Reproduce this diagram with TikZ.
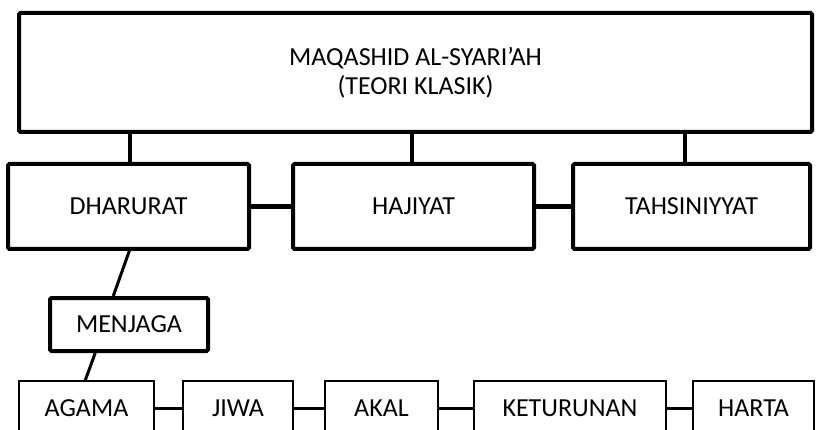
\documentclass[tikz,border=0pt]{standalone}
\usepackage{fontspec}
\setmainfont{Carlito}
\begin{document}
\begin{tikzpicture}[x=1pt,y=-1pt,
  thickbox/.style={draw=black,line width=4pt,fill=white,rounded corners=1.5pt,inner sep=0pt,align=center,
    font=\fontsize{26}{29}\selectfont},
  thinbox/.style={draw=black,line width=1.5pt,fill=white,inner sep=0pt,align=center,
    font=\fontsize{26}{29}\selectfont},
  bigline/.style={line width=4.5pt},
  midline/.style={line width=3.5pt},
  lowline/.style={line width=3pt}]
\useasboundingbox (0,0) rectangle (816,430);
\clip (0,0) rectangle (816,430);
% connector coordinates
\coordinate (k1) at (130,0);
\coordinate (k2) at (412,0);
\coordinate (k3) at (685,0);
\coordinate (p) at (130,249);
\coordinate (m1) at (113.3,0);
\coordinate (m2) at (95.2,0);
\coordinate (q) at (85,381);
% nodes
\node[thickbox,minimum width=793pt,minimum height=119pt] (top) at (415.5,72.5)
  {MAQASHID AL-SYARI’AH\\(TEORI KLASIK)};
\node[thickbox,minimum width=241pt,minimum height=85pt] (dh) at (128.5,206.5) {DHARURAT};
\node[thickbox,minimum width=241pt,minimum height=85pt] (ha) at (413.5,206.5) {HAJIYAT};
\node[thickbox,minimum width=237pt,minimum height=85pt] (ta) at (691.5,206.5) {TAHSINIYYAT};
\node[thickbox,minimum width=158pt,minimum height=53pt] (me) at (129,324.5) {MENJAGA};
\node[thinbox,minimum width=135pt,minimum height=55pt] (ag) at (86.5,408.5) {AGAMA};
\node[thinbox,minimum width=110pt,minimum height=55pt] (ji) at (238,408.5) {JIWA};
\node[thinbox,minimum width=113pt,minimum height=55pt] (ak) at (381.5,408.5) {AKAL};
\node[thinbox,minimum width=192pt,minimum height=55pt] (ke) at (570,408.5) {KETURUNAN};
\node[thinbox,minimum width=121pt,minimum height=55pt] (hr) at (753.5,408.5) {HARTA};
% connectors
\draw[midline] (top.south -| k1) -- (dh.north -| k1);
\draw[midline] (top.south -| k2) -- (ha.north -| k2);
\draw[midline] (top.south -| k3) -- (ta.north -| k3);
\draw[bigline] (dh.east) -- (ha.west);
\draw[bigline] (ha.east) -- (ta.west);
\draw[lowline] (p) -- (me.north -| m1);
\draw[lowline] (me.south -| m2) -- (q);
\draw[lowline] (ag.east) -- (ji.west);
\draw[lowline] (ji.east) -- (ak.west);
\draw[lowline] (ak.east) -- (ke.west);
\draw[lowline] (ke.east) -- (hr.west);
\end{tikzpicture}
\end{document}
